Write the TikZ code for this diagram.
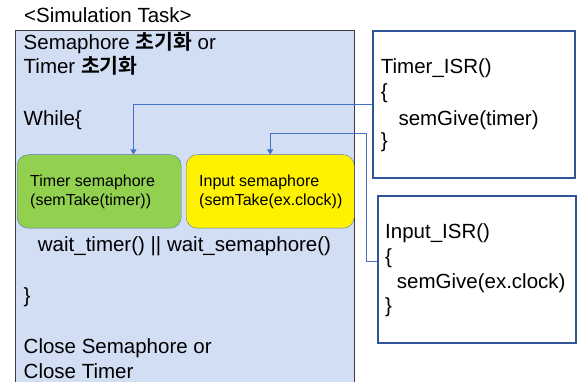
\documentclass[tikz,border=0pt]{standalone}
\usepackage{fontspec}
\setmainfont{Liberation Sans}
\newfontfamily\krfont{Noto Sans CJK KR}[BoldFont={Noto Sans CJK KR Bold}]
\usetikzlibrary{arrows.meta}
\definecolor{taskblue}{RGB}{210,222,244}
\definecolor{semgreen}{RGB}{146,208,80}
\definecolor{isrblue}{RGB}{47,85,151}
\definecolor{linkblue}{RGB}{68,114,196}
\definecolor{semedge}{RGB}{90,120,170}
\newcommand{\bigtxt}{\fontsize{20.5pt}{25pt}\selectfont}
\newcommand{\smalltxt}{\fontsize{16pt}{19pt}\selectfont}
\newcommand{\kr}[1]{{\krfont\bfseries #1}}

\begin{document}
\begin{tikzpicture}[x=1pt, y=-1pt,
  txt/.style={inner sep=0pt, anchor=base west, font=\bigtxt},
  semtxt/.style={inner sep=0pt, anchor=base west, font=\smalltxt},
  taskbox/.style={draw=black!75, fill=taskblue, anchor=north west, inner sep=0pt},
  sembox/.style={draw=semedge, rounded corners=11pt, anchor=north west, inner sep=0pt, minimum height=73.5pt},
  isrbox/.style={draw=isrblue, line width=2pt, fill=white, anchor=north west, inner sep=0pt},
  link/.style={draw=linkblue, line width=0.9pt, -{Triangle[length=5pt,width=6pt]}}]
\useasboundingbox (0,0) rectangle (581,382);

% Simulation task (box runs past the bottom edge)
\node[txt] (title) at (24,22.7) {<Simulation Task>};
\node[taskbox, minimum width=339pt, minimum height=362pt] (task) at (15,30) {};
\node[txt] (init1) at (23.5,50) {Semaphore \kr{초기화} or};
\node[txt] (init2) at (23.5,74) {Timer \kr{초기화}};
\node[txt] (loop) at (23.5,126) {While\{};

% the two semaphores
\node[sembox, fill=semgreen, minimum width=164pt] (tsem) at (17,154.5) {};
\node[sembox, fill=yellow, minimum width=168pt] (isem) at (186,154.5) {};
\node[semtxt] (tsem1) at (30,186.5) {Timer semaphore};
\node[semtxt] (tsem2) at (30,205.5) {(semTake(timer))};
\node[semtxt] (isem1) at (199,186.5) {Input semaphore};
\node[semtxt] (isem2) at (199,205.5) {(semTake(ex.clock))};

\node[txt, anchor=base] (wait) at (184.5,251.5) {wait\_timer() || wait\_semaphore()};
\node[txt] (endloop) at (23.5,302.5) {\}};
\node[txt] (close1) at (23.5,353) {Close Semaphore or};
\node[txt] (close2) at (23.5,378) {Close Timer};

% interrupt routines
\node[isrbox, minimum width=202pt, minimum height=146.7pt] (tisr) at (372.3,30) {};
\node[txt] (tisr1) at (380.7,73.5) {Timer\_ISR()};
\node[txt] (tisr2) at (380.7,99) {\{};
\node[txt] (tisr3) at (398.3,126) {semGive(timer)};
\node[txt] (tisr4) at (380.7,148) {\}};

\node[isrbox, minimum width=198.3pt, minimum height=147.3pt] (iisr) at (376.7,195) {};
\node[txt] (iisr1) at (385,238.5) {Input\_ISR()};
\node[txt] (iisr2) at (385,263.5) {\{};
\node[txt] (iisr3) at (396.7,288) {semGive(ex.clock)};
\node[txt] (iisr4) at (385,312) {\}};

% semGive -> semTake
\coordinate (bend) at (366,133.3);
\draw[link] (tisr.west) -| ([xshift=34.3pt]tsem.north);
\draw[link] ([yshift=8.7pt]iisr.west) -| (bend) -| (isem.north);
\end{tikzpicture}
\end{document}
